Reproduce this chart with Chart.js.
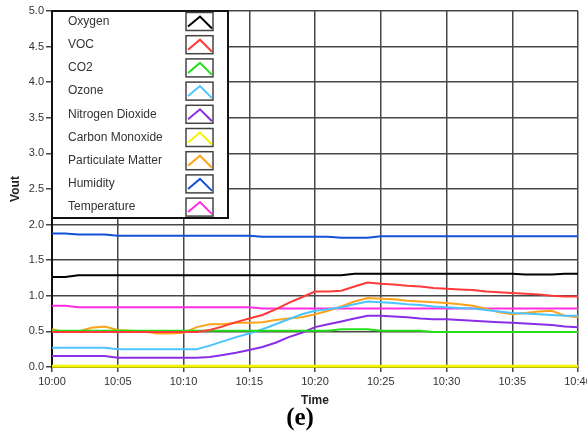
<!DOCTYPE html>
<html>
<head>
<meta charset="utf-8">
<script src="https://cdn.jsdelivr.net/npm/chart.js@4/dist/chart.umd.min.js"></script>
<style>
  html, body { margin: 0; padding: 0; background: #fff; }
  #wrap { position: relative; width: 587px; height: 436px; }
</style>
</head>
<body>
<div id="wrap"><canvas id="sensorChart" width="587" height="436"></canvas></div>
<script>
// minutes after 10:00
const minutes = [];
for (let m = 0; m <= 40; m++) minutes.push(m);

const xTickLabels = ['10:00', '10:05', '10:10', '10:15', '10:20', '10:25', '10:30', '10:35', '10:40'];
const yTickLabels = ['0.0', '0.5', '1.0', '1.5', '2.0', '2.5', '3.0', '3.5', '4.0', '4.5', '5.0'];

const seriesNames = ['Oxygen', 'VOC', 'CO2', 'Ozone', 'Nitrogen Dioxide', 'Carbon Monoxide', 'Particulate Matter', 'Humidity', 'Temperature'];
const seriesColors = ['#000000', '#ff3a3a', '#22e01a', '#4cc4ff', '#8a2ee8', '#f4f400', '#ffa31a', '#1150d8', '#ff2ee0'];

const oxygen = [1.265, 1.265, 1.29, 1.29, 1.29, 1.29, 1.29, 1.29, 1.29, 1.29, 1.29, 1.29, 1.29, 1.29, 1.29, 1.29, 1.29, 1.29, 1.29, 1.29, 1.29, 1.29, 1.29,
  1.31, 1.31, 1.31, 1.31, 1.31, 1.31, 1.31, 1.31, 1.31, 1.31, 1.31, 1.31, 1.31, 1.30, 1.30, 1.30, 1.31, 1.31];
const voc = [0.49, 0.49, 0.49, 0.49, 0.49, 0.49, 0.49, 0.49, 0.49, 0.49, 0.49, 0.49, 0.52, 0.57, 0.63, 0.68, 0.73, 0.81, 0.90, 0.98, 1.06,
  1.06, 1.07, 1.13, 1.185, 1.17, 1.16, 1.14, 1.13, 1.11, 1.10, 1.09, 1.08, 1.06, 1.05, 1.04, 1.03, 1.02, 1.00, 0.99, 0.99];
const co2 = [0.51, 0.51, 0.51, 0.51, 0.51, 0.51, 0.51, 0.51, 0.51, 0.51, 0.51, 0.51, 0.51, 0.51, 0.51, 0.51, 0.51, 0.51, 0.51, 0.51, 0.51,
  0.51, 0.53, 0.53, 0.53, 0.51, 0.51, 0.51, 0.51, 0.49, 0.49, 0.49, 0.49, 0.49, 0.49, 0.49, 0.49, 0.49, 0.49, 0.49, 0.49];
const ozone = [0.27, 0.27, 0.27, 0.27, 0.27, 0.25, 0.25, 0.25, 0.25, 0.25, 0.25, 0.25, 0.30, 0.36, 0.42, 0.47, 0.53, 0.60, 0.67, 0.74, 0.79,
  0.81, 0.84, 0.88, 0.92, 0.91, 0.90, 0.88, 0.87, 0.85, 0.84, 0.83, 0.82, 0.80, 0.78, 0.76, 0.75, 0.74, 0.73, 0.72, 0.72];
const no2 = [0.155, 0.155, 0.155, 0.155, 0.155, 0.13, 0.13, 0.13, 0.13, 0.13, 0.13, 0.13, 0.14, 0.17, 0.20, 0.24, 0.28, 0.34, 0.42, 0.48, 0.56,
  0.60, 0.64, 0.68, 0.72, 0.72, 0.71, 0.70, 0.68, 0.67, 0.67, 0.66, 0.65, 0.64, 0.63, 0.62, 0.61, 0.60, 0.59, 0.57, 0.56];
const co = [0.01, 0.01, 0.01, 0.01, 0.01, 0.01, 0.01, 0.01, 0.01, 0.01, 0.01, 0.01, 0.01, 0.01, 0.01, 0.01, 0.01, 0.01, 0.01, 0.01, 0.01,
  0.01, 0.01, 0.01, 0.01, 0.01, 0.01, 0.01, 0.01, 0.01, 0.01, 0.01, 0.01, 0.01, 0.01, 0.01, 0.01, 0.01, 0.01, 0.01, 0.01];
const pm = [0.53, 0.49, 0.50, 0.55, 0.57, 0.52, 0.51, 0.50, 0.47, 0.47, 0.48, 0.56, 0.60, 0.60, 0.62, 0.62, 0.63, 0.66, 0.68, 0.70, 0.74,
  0.79, 0.85, 0.92, 0.97, 0.96, 0.95, 0.93, 0.92, 0.91, 0.90, 0.88, 0.86, 0.82, 0.77, 0.74, 0.76, 0.78, 0.79, 0.72, 0.70];
const humidity = [1.875, 1.875, 1.86, 1.86, 1.86, 1.845, 1.845, 1.845, 1.845, 1.845, 1.845, 1.845, 1.845, 1.845, 1.845, 1.845, 1.83, 1.83, 1.83, 1.83, 1.83,
  1.83, 1.815, 1.815, 1.815, 1.835, 1.835, 1.835, 1.835, 1.835, 1.835, 1.835, 1.835, 1.835, 1.835, 1.835, 1.835, 1.835, 1.835, 1.835, 1.835];
const temperature = [0.86, 0.86, 0.84, 0.84, 0.84, 0.84, 0.84, 0.84, 0.84, 0.84, 0.84, 0.84, 0.84, 0.84, 0.84, 0.84, 0.82, 0.82, 0.82, 0.82, 0.82,
  0.82, 0.82, 0.82, 0.82, 0.82, 0.82, 0.82, 0.82, 0.82, 0.82, 0.82, 0.82, 0.82, 0.82, 0.82, 0.82, 0.82, 0.82, 0.82, 0.82];

const seriesValues = [oxygen, voc, co2, ozone, no2, co, pm, humidity, temperature];

const gridColor = '#474747';
const textColor = '#333333';

// legend box drawn inside the plot, over the grid (top-left corner)
const insideLegend = {
  id: 'insideLegend',
  afterDraw(chart) {
    const ctx = chart.ctx;
    const area = chart.chartArea;
    const left = area.left, top = area.top;
    const w = 176, h = 207;
    ctx.save();
    ctx.fillStyle = '#fff';
    ctx.fillRect(left, top, w, h);
    ctx.strokeStyle = '#111';
    ctx.lineWidth = 2;
    ctx.strokeRect(left, top, w, h);
    ctx.font = '12px "Liberation Sans", Arial, sans-serif';
    ctx.textBaseline = 'middle';
    chart.data.datasets.forEach((ds, i) => {
      const cy = top + 10.5 + i * 23.2;
      ctx.fillStyle = textColor;
      ctx.fillText(ds.label, left + 16, cy);
      // swatch box
      const bx = left + 134, by = cy - 9;
      ctx.strokeStyle = '#444';
      ctx.lineWidth = 1.5;
      ctx.strokeRect(bx, by, 27, 18);
      ctx.strokeStyle = ds.borderColor;
      ctx.lineWidth = 2;
      ctx.beginPath();
      ctx.moveTo(bx + 2, by + 14);
      ctx.lineTo(bx + 14, by + 4);
      ctx.lineTo(bx + 26, by + 16);
      ctx.stroke();
    });
    ctx.restore();
  }
};

// axis titles and panel label
const titles = {
  id: 'titles',
  afterDraw(chart) {
    const ctx = chart.ctx;
    const area = chart.chartArea;
    ctx.save();
    ctx.fillStyle = '#222';
    ctx.textAlign = 'center';
    ctx.textBaseline = 'middle';
    ctx.font = 'bold 12px "Liberation Sans", Arial, sans-serif';
    ctx.fillText('Time', (area.left + area.right) / 2, 401);
    ctx.save();
    ctx.translate(16, (area.top + area.bottom) / 2);
    ctx.rotate(-Math.PI / 2);
    ctx.fillText('Vout', 0, 0);
    ctx.restore();
    ctx.fillStyle = '#000';
    ctx.font = 'bold 25px "Liberation Serif", "Times New Roman", serif';
    ctx.fillText('(e)', 300, 419);
    ctx.restore();
  }
};

const ctx = document.getElementById('sensorChart').getContext('2d');
const sensorChart = new Chart(ctx, {
  type: 'line',
  data: {
    labels: minutes,
    datasets: seriesNames.map((name, i) => ({
      label: name,
      data: seriesValues[i].map((v, j) => ({ x: minutes[j], y: v })),
      borderColor: seriesColors[i],
      backgroundColor: seriesColors[i],
      borderWidth: i === 5 ? 3 : 2,
      pointRadius: 0,
      tension: 0,
      fill: false,
      clip: 4,
      order: i === 5 ? 10 : i
    }))
  },
  options: {
    responsive: false,
    animation: false,
    events: [],
    layout: { padding: { top: 11, right: 9, left: 0, bottom: 0 } },
    plugins: {
      legend: { display: false },
      tooltip: { enabled: false }
    },
    scales: {
      x: {
        type: 'linear',
        min: 0,
        max: 40,
        afterBuildTicks(scale) {
          scale.ticks = xTickLabels.map((t, i) => ({ value: i * 5 }));
        },
        afterFit(scale) {
          scale.height = 69;
          scale.paddingRight = 0;
          scale.paddingLeft = 0;
        },
        ticks: {
          color: textColor,
          font: { family: '"Liberation Sans", Arial, sans-serif', size: 11 },
          padding: 3,
          maxRotation: 0,
          autoSkip: false,
          callback: (v) => xTickLabels[v / 5]
        },
        grid: { color: gridColor, lineWidth: 1.5, tickLength: 5 },
        border: { color: '#111', width: 2 }
      },
      y: {
        min: 0,
        max: 5,
        afterBuildTicks(scale) {
          scale.ticks = yTickLabels.map((t) => ({ value: parseFloat(t) }));
        },
        afterFit(scale) {
          scale.width = 52;
          scale.paddingTop = 0;
          scale.paddingBottom = 0;
        },
        ticks: {
          color: textColor,
          font: { family: '"Liberation Sans", Arial, sans-serif', size: 11 },
          padding: 2,
          callback: (v) => yTickLabels[Math.round(v * 2)]
        },
        grid: { color: gridColor, lineWidth: 1.5, tickLength: 6 },
        border: { color: '#111', width: 2 }
      }
    }
  },
  plugins: [insideLegend, titles]
});
</script>
</body>
</html>
